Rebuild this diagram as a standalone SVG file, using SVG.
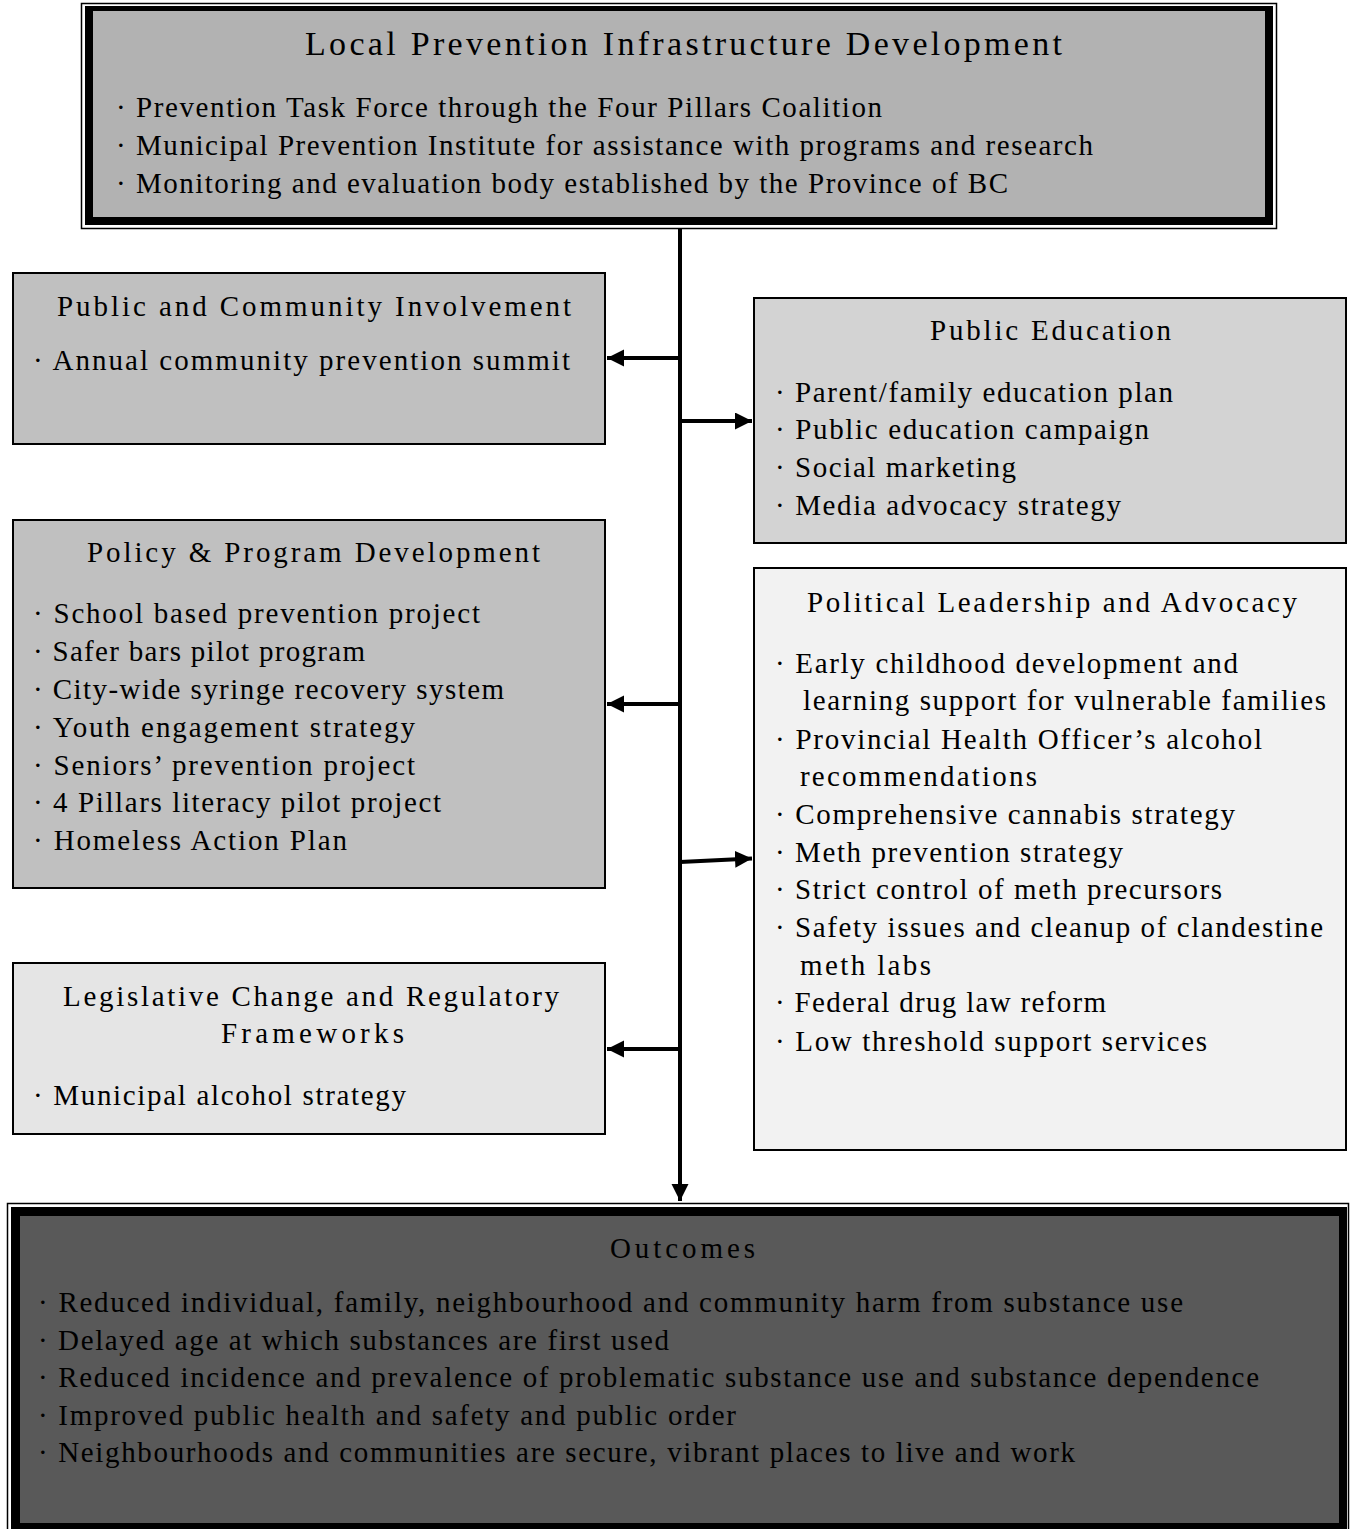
<svg xmlns="http://www.w3.org/2000/svg" width="1350" height="1529" viewBox="0 0 1350 1529">
<defs>
<style>
.t{font-family:"Liberation Serif","Times New Roman",serif;font-size:29px;fill:#000}
.big{font-size:34px}
.box{stroke:#000;stroke-width:2}
.frame{fill:none;stroke:#000;stroke-width:1.5}
.conn{stroke:#000;stroke-width:4;fill:none}
</style>
<marker id="ah" markerUnits="userSpaceOnUse" markerWidth="18" markerHeight="18" refX="17" refY="8.5" orient="auto">
<path d="M0,0 L17,8.5 L0,17 z" fill="#000"/>
</marker>
</defs>
<rect width="1350" height="1529" fill="#fff"/>

<g id="connectors">
<line class="conn" x1="680" y1="229" x2="680" y2="1201" marker-end="url(#ah)"/>
<line class="conn" x1="680" y1="358" x2="607" y2="358" marker-end="url(#ah)"/>
<line class="conn" x1="680" y1="421" x2="752" y2="421" marker-end="url(#ah)"/>
<line class="conn" x1="680" y1="704" x2="607" y2="704" marker-end="url(#ah)"/>
<line class="conn" x1="680" y1="862" x2="752" y2="858.5" marker-end="url(#ah)"/>
<line class="conn" x1="680" y1="1049" x2="607" y2="1049" marker-end="url(#ah)"/>
</g>

<g id="infrastructure">
<rect class="frame" x="81.5" y="3.5" width="1195" height="225"/>
<rect x="85" y="6" width="1188" height="219" fill="#000"/>
<rect x="93" y="11" width="1172" height="206" fill="#b2b2b2"/>
<text class="t big" x="305" y="55" textLength="757">Local Prevention Infrastructure Development</text>
<text class="t" x="116" y="117" textLength="766">· Prevention Task Force through the Four Pillars Coalition</text>
<text class="t" x="116" y="155" textLength="977">· Municipal Prevention Institute for assistance with programs and research</text>
<text class="t" x="116" y="193" textLength="892">· Monitoring and evaluation body established by the Province of BC</text>
</g>

<g id="community">
<rect class="box" x="13" y="273" width="592" height="171" fill="#c0c0c0"/>
<text class="t" x="57" y="316" textLength="514">Public and Community Involvement</text>
<text class="t" x="33" y="370" textLength="537">· Annual community prevention summit</text>
</g>

<g id="education">
<rect class="box" x="754" y="298" width="592" height="245" fill="#d3d3d3"/>
<text class="t" x="930" y="340" textLength="241">Public Education</text>
<text class="t" x="775" y="402" textLength="398">· Parent/family education plan</text>
<text class="t" x="775" y="439" textLength="374">· Public education campaign</text>
<text class="t" x="775" y="477" textLength="241">· Social marketing</text>
<text class="t" x="775" y="515" textLength="346">· Media advocacy strategy</text>
</g>

<g id="policy">
<rect class="box" x="13" y="520" width="592" height="368" fill="#c0c0c0"/>
<text class="t" x="87" y="562" textLength="453">Policy &amp; Program Development</text>
<text class="t" x="33" y="623" textLength="447">· School based prevention project</text>
<text class="t" x="33" y="661" textLength="332">· Safer bars pilot program</text>
<text class="t" x="33" y="699" textLength="471">· City-wide syringe recovery system</text>
<text class="t" x="33" y="737" textLength="382">· Youth engagement strategy</text>
<text class="t" x="33" y="775" textLength="382">· Seniors’ prevention project</text>
<text class="t" x="33" y="812" textLength="408">· 4 Pillars literacy pilot project</text>
<text class="t" x="33" y="850" textLength="314">· Homeless Action Plan</text>
</g>

<g id="political">
<rect class="box" x="754" y="568" width="592" height="582" fill="#f2f2f2"/>
<text class="t" x="807" y="612" textLength="490">Political Leadership and Advocacy</text>
<text class="t" x="775" y="673" textLength="463">· Early childhood development and</text>
<text class="t" x="803" y="710" textLength="523">learning support for vulnerable families</text>
<text class="t" x="775" y="749" textLength="487">· Provincial Health Officer’s alcohol</text>
<text class="t" x="800" y="786" textLength="237">recommendations</text>
<text class="t" x="775" y="824" textLength="460">· Comprehensive cannabis strategy</text>
<text class="t" x="775" y="862" textLength="348">· Meth prevention strategy</text>
<text class="t" x="775" y="899" textLength="447">· Strict control of meth precursors</text>
<text class="t" x="775" y="937" textLength="548">· Safety issues and cleanup of clandestine</text>
<text class="t" x="800" y="975" textLength="131">meth labs</text>
<text class="t" x="775" y="1012" textLength="331">· Federal drug law reform</text>
<text class="t" x="775" y="1051" textLength="432">· Low threshold support services</text>
</g>

<g id="legislative">
<rect class="box" x="13" y="963" width="592" height="171" fill="#e5e5e5"/>
<text class="t" x="63" y="1006" textLength="496">Legislative Change and Regulatory</text>
<text class="t" x="221" y="1043" textLength="183">Frameworks</text>
<text class="t" x="33" y="1105" textLength="373">· Municipal alcohol strategy</text>
</g>

<g id="outcomes">
<rect class="frame" x="7.5" y="1203.5" width="1341" height="340"/>
<rect x="11" y="1207" width="1336" height="330" fill="#000"/>
<rect x="20" y="1216" width="1319" height="307" fill="#595959"/>
<text class="t" x="610" y="1258" textLength="145">Outcomes</text>
<text class="t" x="38" y="1312" textLength="1145">· Reduced individual, family, neighbourhood and community harm from substance use</text>
<text class="t" x="38" y="1350" textLength="631">· Delayed age at which substances are first used</text>
<text class="t" x="38" y="1387" textLength="1221">· Reduced incidence and prevalence of problematic substance use and substance dependence</text>
<text class="t" x="38" y="1425" textLength="698">· Improved public health and safety and public order</text>
<text class="t" x="38" y="1462" textLength="1037">· Neighbourhoods and communities are secure, vibrant places to live and work</text>
</g>
</svg>
